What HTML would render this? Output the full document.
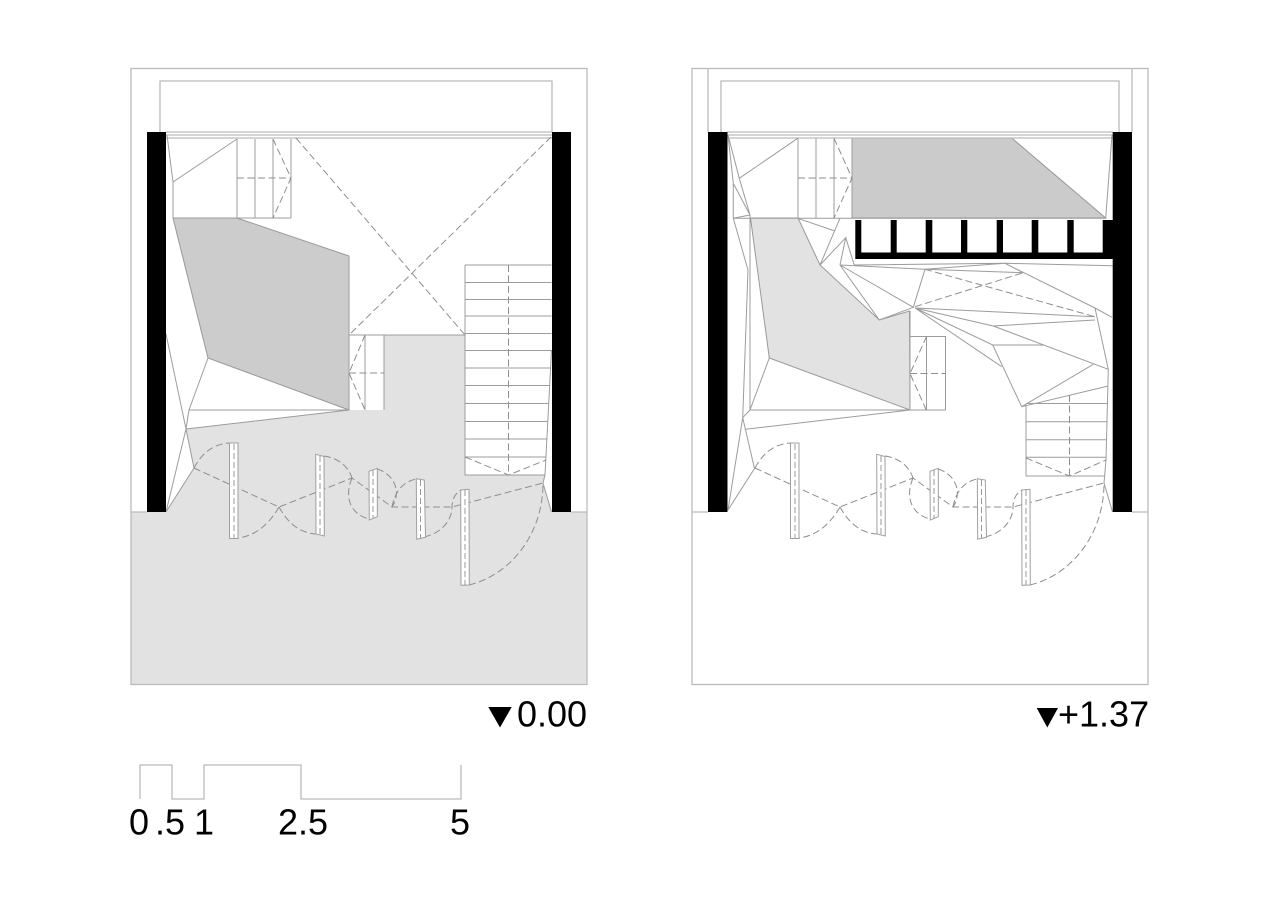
<!DOCTYPE html>
<html><head><meta charset="utf-8"><title>Plans</title>
<style>
html,body{margin:0;padding:0;background:#fff}
svg{display:block}
.l{fill:none;stroke:#9c9c9c;stroke-width:1}
.f{fill:none;stroke:#bbb;stroke-width:1.3}
.d{fill:none;stroke:#8e8e8e;stroke-width:1;stroke-dasharray:7 3.5}
.w{fill:#fff;stroke:#a0a0a0;stroke-width:1}
.wd{fill:none;stroke:#999;stroke-width:1;stroke-dasharray:6 3}
text{font-family:"Liberation Sans",sans-serif;font-size:36px;fill:#000}
</style></head>
<body>
<svg width="1280" height="905" viewBox="0 0 1280 905" xmlns="http://www.w3.org/2000/svg">
<defs>
<g id="doors">
  <path class="d" d="M194 468C203 451 215 444 229 443M194 468L279 507L352 478L392 507L452 507L543 483M279 507C268 526 254 536 238 538M279 507C289 525 301 533 316 534M324 456C338 458 348 466 352 478M352 478C344 497 350 514 369 519M377 469C394 474 402 492 392 507M392 507C395 491 403 482 416 479M424 537C442 533 452 520 452 507C452 500 455 493 461 490M469 585C510 575 543 535 543 483"/>
  <path class="w" d="M229.500 443H238V538.500H229.500ZM315.700 454.300L324 456.500L324.300 536L316 534ZM369 471.300L377.300 468.300L377.300 516.700L369.300 520ZM416.300 478.700L424.300 480L425.500 537.300L416.700 539.300ZM460.700 490L469 489.300L469.300 585L461 585.300Z"/>
  <path class="wd" d="M234 444V538M320 456V535M373 470V518M420.500 480V538M465 490V585"/>
</g>
</defs>

<!-- LEFT PLAN -->
<polygon fill="#e2e2e2" points="131,512 166,512 194,468 186,429 349,410 384,410 384,335 465,335 465,475 545,475 543,483 551.500,512 587,512 587,684 131,684"/>
<polygon fill="#cccccc" stroke="#999" stroke-width="1" points="173,218 237,218 349,256 349,410 208,358"/>
<rect class="f" x="131" y="68.500" width="456" height="616"/>
<path class="f" d="M160 132V81H552V132M131 512H147M571 512H587M166 132H552M166 135H552M166 138H552"/>
<path class="l" d="M167 135L173 182L237 139M173 182V218H291M237 139V218M255 139V218M273 139V218M291 139V218"/>
<path class="d" d="M237 178H291M273 139L291 178L273 218M296 138L465 335M551 137L349 335"/>
<path class="l" d="M349 335H465M365 335V410M384 335V410M349 256V410"/>
<path class="d" d="M349 373H384M365 335L349 373L365 410"/>
<path class="l" d="M166 334L186 429L194 468L166 512L186 429M208 358L189 410H349M186 429L349 410M189 410L186 429"/>
<path class="l" d="M465 265V475H545M465 265H551.500M465 282.500H551.500M465 299.500H551.500M465 316H551.500M465 333.500H551.500M465 350.500H551M465 368H551M465 385.500H550M465 403.500H549M465 421.500H548M465 439H547.500M465 457H546.500M551.500 350L545 475L543 483L551.500 512"/>
<path class="d" d="M508.500 265V475M465 457L508.500 475L546 460"/>
<use href="#doors"/>
<rect x="147" y="132" width="19" height="380" fill="#000"/>
<rect x="552" y="132" width="19" height="380" fill="#000"/>

<!-- RIGHT PLAN -->
<polygon fill="#e2e2e2" stroke="#999" stroke-width="1" points="750.500,218 798,218 820,265 879.300,320 909.500,311 910,410 769.300,358"/>
<polygon fill="#cbcbcb" stroke="#999" stroke-width="1" points="852,138 1011.700,138 1105.700,218 852,218"/>
<rect class="f" x="692" y="68.500" width="456" height="616"/>
<path class="f" d="M708 68V132M1132 68V132M721 132V81H1119V132M692 512H708M1132 512H1148M727 132H1113M727 135H1113M727 138H1113"/>
<path class="l" d="M728 135L739.300 178.300L797.700 138.300M739.300 178.300L750 215L733.300 183.300L728 135M733.300 183.300V218.300L750 215M733.300 218.300L748 270L742.700 417.700L728 510L754.500 468.500L742.700 417.700L750 410M750 215V410M745.300 429.300L910 410M750 410L769.300 358M750 410H945.500"/>
<path class="l" d="M733.300 218.300H1105.700M798 138.300V218M816 138.300V218M834 138.300V218M852 138.300V218"/>
<path class="d" d="M798 178H852M834 138.300L852 178L834 218"/>
<path class="l" d="M1105.700 218L1112 135"/>
<!-- folded surfaces -->
<path class="l" d="M797.700 218.300L835 231M840 218.300L820 265L845.700 237.700L840 265M845.700 237.700L854.300 265M840 265L913.300 307.300L879.300 320L840 265M840 265L925 269.300M913.300 307.300L925 269.300L1023.300 272.700L1005 263.300L925 269.300M854 265L1005 263.300L1112.700 265.700M1005 263.300L1095 308L1112 317.300M915 308L1095 316.700M993.300 326L1095 320M915 308L993.300 326L1108.300 369.300M915 308L1001.700 366.700M915 308L992.700 345H1043.300M992.700 345L1021.700 406.700L1093.300 364.300M1021.700 406.700L1108.300 386M1095 308L1108.300 369.300L1106 460L1104 483L1112.500 512"/>
<path class="d" d="M925 269.300L1095 316.700M915 306.700L1023.300 272.700"/>
<!-- small stair -->
<path class="l" d="M910 336.500H945.500V410.500M926.500 336.500V410.500M910 311V410"/>
<path class="d" d="M910 373.500H945.500M926.500 336.500L910 373.500L926.500 410.500"/>
<!-- lower stair -->
<path class="l" d="M1026 405V476H1105M1026 403.500H1108M1026 421.700H1107.500M1026 439.700H1107M1026 457.300H1106.500"/>
<path class="d" d="M1069.500 395V476M1026 458L1069.500 476L1106 460"/>
<use href="#doors" x="561"/>
<rect x="708" y="132" width="19.500" height="380" fill="#000"/>
<rect x="1112.700" y="132" width="19.300" height="380" fill="#000"/>
<path fill="#000" d="M855.300 220H861.300V252.500H890.700V220H896.700V252.500H925.700V220H932.300V252.500H961V220H967.300V252.500H996.700V220H1003V252.500H1031.700V220H1038.300V252.500H1067.300V220H1073.700V252.500H1102.700V220H1113V259H855.300Z"/>

<!-- labels -->
<polygon fill="#000" points="488.300,707 511.700,707 500,727.500"/>
<text x="517" y="726.500">0.00</text>
<polygon fill="#000" points="1036.700,708 1058,708 1047.300,727.500"/>
<text x="1058" y="726.500">+1.37</text>
<path class="f" d="M140 799V765H172V799H204V765H301V799H461V765"/>
<text x="129" y="834.500">0</text>
<text x="155" y="834.500">.5</text>
<text x="194" y="834.500">1</text>
<text x="278" y="834.500">2.5</text>
<text x="450" y="834.500">5</text>
</svg>
</body></html>
